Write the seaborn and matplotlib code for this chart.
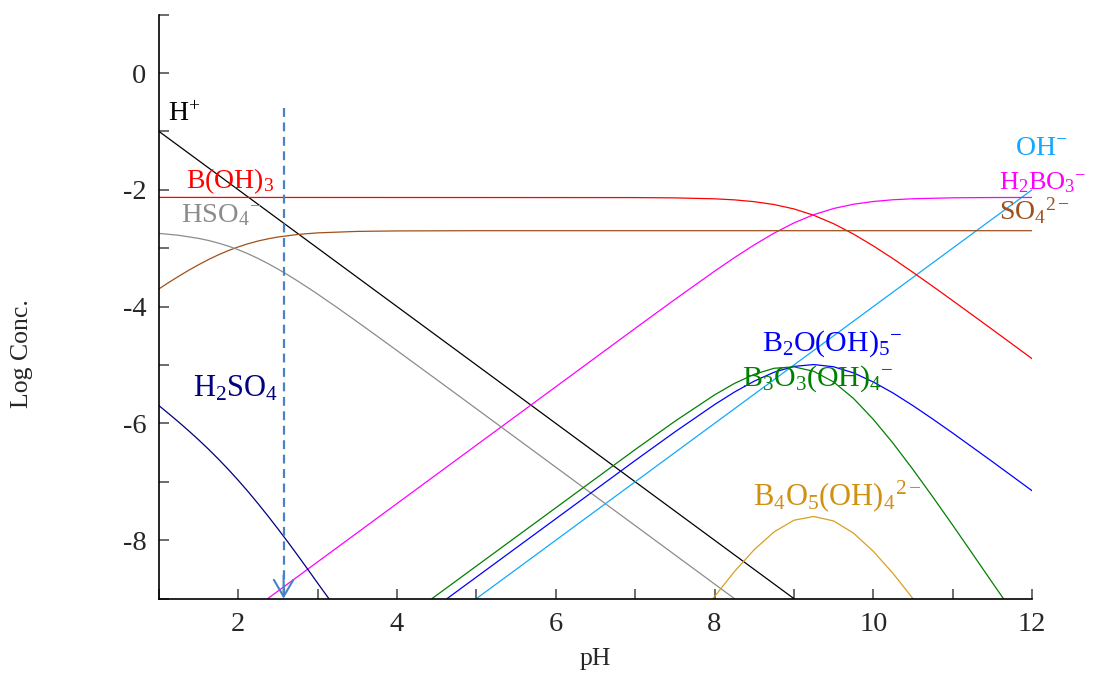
import numpy as np
import pandas as pd
import matplotlib
matplotlib.use("Agg")
import matplotlib.pyplot as plt
import seaborn as sns
from matplotlib.ticker import MultipleLocator

# ---------------- data ----------------
ph_h = [1, 9]
log_h = [-1, -9]

ph_oh = [5, 12]
log_oh = [-9, -2]

ph_boh3 = [1, 7, 7.5, 8, 8.25, 8.5, 8.75, 9, 9.25, 9.5, 9.75, 10, 10.25, 10.5,
           10.75, 11, 11.25, 11.5, 11.75, 12]
log_boh3 = [-2.13, -2.133, -2.138, -2.154, -2.172, -2.203, -2.252, -2.327, -2.436,
            -2.580, -2.757, -2.960, -3.180, -3.413, -3.653, -3.897, -4.144, -4.392,
            -4.641, -4.891]

ph_h2bo3 = [2.37, 7, 7.5, 8, 8.25, 8.5, 8.75, 9, 9.25, 9.5, 9.75, 10, 10.25, 10.5,
            11, 11.5, 12]
log_h2bo3 = [-9.0, -4.373, -3.878, -3.394, -3.162, -2.943, -2.742, -2.567, -2.426,
             -2.320, -2.247, -2.200, -2.170, -2.153, -2.137, -2.132, -2.131]

ph_so4 = [1, 1.125, 1.25, 1.375, 1.5, 1.625, 1.75, 1.875, 2, 2.125, 2.25, 2.375,
          2.5, 2.75, 3, 3.5, 4, 5, 12]
log_so4 = [-3.696, -3.585, -3.479, -3.377, -3.282, -3.193, -3.112, -3.040, -2.977,
           -2.922, -2.876, -2.839, -2.808, -2.764, -2.737, -2.712, -2.704, -2.700,
           -2.700]

ph_hso4 = [1, 1.25, 1.5, 1.625, 1.75, 1.875, 2, 2.125, 2.25, 2.375, 2.5, 2.625,
           2.75, 2.875, 3, 3.25, 3.5, 3.75, 4, 4.5, 5, 8.25]
log_hso4 = [-2.746, -2.779, -2.832, -2.868, -2.913, -2.965, -3.027, -3.097, -3.177,
            -3.264, -3.358, -3.458, -3.564, -3.674, -3.787, -4.021, -4.262, -4.507,
            -4.754, -5.251, -5.750, -9.0]

ph_h2so4 = [1, 1.125, 1.25, 1.375, 1.5, 1.625, 1.75, 1.875, 2, 2.125, 2.25, 2.375,
            2.5, 2.625, 2.75, 2.875, 3, 3.14]
log_h2so4 = [-5.696, -5.836, -5.979, -6.128, -6.282, -6.443, -6.613, -6.790, -6.977,
             -7.172, -7.377, -7.589, -7.808, -8.033, -8.264, -8.499, -8.737, -9.0]

ph_b2o = [4.63, 7, 7.5, 8, 8.25, 8.5, 8.75, 9, 9.25, 9.5, 9.75, 10, 10.25, 10.5,
          10.75, 11, 11.5, 12]
log_b2o = [-9.0, -6.635, -6.146, -5.678, -5.464, -5.276, -5.124, -5.024, -4.992,
           -5.03, -5.134, -5.29, -5.48, -5.696, -5.926, -6.164, -6.654, -7.152]

ph_b3o3 = [4.44, 7, 7.5, 8, 8.25, 8.5, 8.75, 9, 9.25, 9.5, 9.75, 10, 10.25, 10.5,
           10.75, 11, 11.25, 11.5, 11.64]
log_b3o3 = [-9.0, -6.448, -5.964, -5.512, -5.316, -5.159, -5.056, -5.031, -5.108,
            -5.29, -5.571, -5.93, -6.34, -6.789, -7.259, -7.741, -8.232, -8.726, -9.0]

ph_b4o5 = [7.98, 8.25, 8.5, 8.75, 9, 9.25, 9.5, 9.75, 10, 10.25, 10.5]
log_b4o5 = [-9.0, -8.538, -8.162, -7.858, -7.658, -7.594, -7.67, -7.878, -8.19,
            -8.57, -9.0]

marker_ph = 2.57
marker_top = -0.6

x_ticks = [2, 4, 6, 8, 10, 12]
y_ticks = [-8, -6, -4, -2, 0]

# ---------------- style ----------------
sns.set_style("ticks")
plt.rcParams['font.family'] = ['Liberation Serif', 'DejaVu Serif']
plt.rcParams['mathtext.fontset'] = 'custom'
plt.rcParams['mathtext.rm'] = 'Liberation Serif'
plt.rcParams['mathtext.it'] = 'Liberation Serif:italic'
plt.rcParams['mathtext.default'] = 'rm'
plt.rcParams['axes.unicode_minus'] = False

fig = plt.figure(figsize=(11.08, 6.77), dpi=100)
ax = fig.add_axes([0.1435, 0.1158, 0.7879, 0.8626])

series = [
    (ph_h, log_h, "black"),
    (ph_oh, log_oh, "#12a8ff"),
    (ph_boh3, log_boh3, "#ff0000"),
    (ph_h2bo3, log_h2bo3, "#ff00ff"),
    (ph_so4, log_so4, "#a0501a"),
    (ph_hso4, log_hso4, "#8c8c8c"),
    (ph_h2so4, log_h2so4, "#000080"),
    (ph_b2o, log_b2o, "#0000ff"),
    (ph_b3o3, log_b3o3, "#008000"),
    (ph_b4o5, log_b4o5, "#d8a020"),
]
for xs, ys, c in series:
    sns.lineplot(x=xs, y=ys, color=c, linewidth=0.9, sort=False,
                 estimator=None, ax=ax)

# dashed marker with arrow
dash_color = "#4a82c4"
ax.plot([marker_ph, marker_ph], [marker_top, -9], linestyle=(0, (4, 2.5)),
        color=dash_color, linewidth=1.6)
ax.annotate("", xy=(marker_ph, -9), xytext=(marker_ph, -8.6),
            arrowprops=dict(arrowstyle='->,head_length=0.6,head_width=0.35',
                            color=dash_color, lw=1.5, shrinkA=0, shrinkB=0,
                            mutation_scale=20))

# species labels
labels = [
    (1.11, -0.83, r'H$^{+}$', "black", 20),
    (1.34, -1.97, r'B(OH)$_3$', "#ff0000", 20),
    (1.28, -2.55, r'HSO$_4$$^{-}$', "#8c8c8c", 20.5),
    (1.43, -5.54, r'H$_2$SO$_4$', "#000080", 22),
    (11.78, -1.40, r'OH$^{-}$', "#12a8ff", 20),
    (11.59, -2.00, r'H$_2$BO$_3$$^{-}$', "#ff00ff", 19),
    (11.58, -2.52, r'SO$_4$$^{2-}$', "#a0501a", 20),
    (8.60, -4.75, r'B$_2$O(OH)$_5$$^{-}$', "#0000ff", 21.5),
    (8.34, -5.36, r'B$_3$O$_3$(OH)$_4$$^{-}$', "#008000", 21.5),
    (8.48, -7.40, r'B$_4$O$_5$(OH)$_4$$^{2-}$', "#d09010", 22),
]
for x, y, t, c, s in labels:
    ax.text(x, y, t, color=c, fontsize=s, ha='left', va='baseline')

# axes
ax.set_xlim(1, 12)
ax.set_ylim(-9, 1)
ax.xaxis.set_major_locator(MultipleLocator(2))
ax.xaxis.set_minor_locator(MultipleLocator(1))
ax.yaxis.set_major_locator(MultipleLocator(2))
ax.yaxis.set_minor_locator(MultipleLocator(1))
ax.set_xticks(x_ticks)
ax.set_yticks(y_ticks)
ax.set_xticklabels([str(v) for v in x_ticks])
ax.set_yticklabels([str(v) for v in y_ticks])
ax.tick_params(which='both', direction='in', length=7.5, width=1.1,
               color='#444444', labelsize=20.5)
ax.tick_params(axis='x', which='major', pad=10)
ax.tick_params(axis='y', which='major', pad=9)
ax.tick_params(top=False, right=False, which='both')
for s in ['top', 'right']:
    ax.spines[s].set_visible(False)
for s in ['left', 'bottom']:
    ax.spines[s].set_linewidth(1.2)
    ax.spines[s].set_color('black')

ax.set_xlabel("pH", fontsize=18.5)
ax.set_ylabel("Log Conc.", fontsize=18.5)
ax.xaxis.set_label_coords(0.5, -0.085)
ax.yaxis.set_label_coords(-0.144, 0.419)

fig.savefig("out.png", dpi=100)
